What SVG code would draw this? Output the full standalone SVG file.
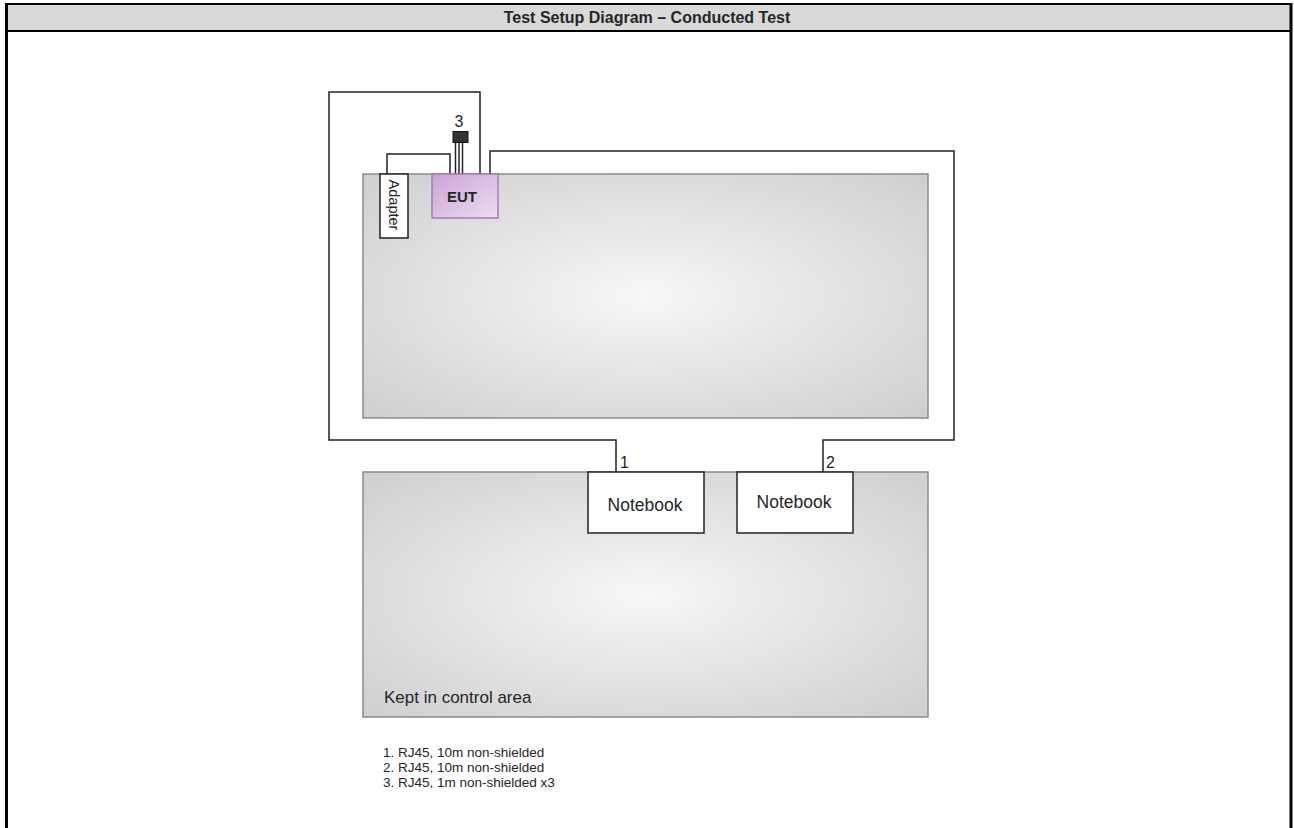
<svg xmlns="http://www.w3.org/2000/svg" width="1294" height="828" viewBox="0 0 1294 828">
<style>
.t{font-family:"Liberation Sans",Arial,sans-serif;fill:#262626}
.cable{fill:none;stroke:#222;stroke-width:1.5}
.table{stroke:#8a8a8a;stroke-width:1.5}
.box{fill:#fff;stroke:#222;stroke-width:1.5}
</style>
<defs>
<radialGradient id="tg" cx="0.5" cy="0.5" r="0.7">
<stop offset="0" stop-color="#f7f7f7"/>
<stop offset="1" stop-color="#cfcfcf"/>
</radialGradient>
<linearGradient id="eg" x1="0" y1="0" x2="1" y2="1">
<stop offset="0" stop-color="#caa3d6"/>
<stop offset="1" stop-color="#ecdcf1"/>
</linearGradient>
</defs>
<rect width="1294" height="828" fill="#fff"/>
<g id="header">
<rect x="6" y="4" width="1285" height="27" fill="#d9d9d9"/>
<line x1="6" y1="31" x2="1291" y2="31" stroke="#000" stroke-width="2"/>
<line x1="6" y1="4" x2="1291" y2="4" stroke="#000" stroke-width="2"/>
<line x1="6.5" y1="3" x2="6.5" y2="828" stroke="#000" stroke-width="3"/>
<line x1="1291" y1="3" x2="1291" y2="828" stroke="#000" stroke-width="3"/>
<text class="t" x="647" y="23" text-anchor="middle" font-size="16" font-weight="bold" fill="#000">Test Setup Diagram – Conducted Test</text>
</g>
<g id="table-top"><rect class="table" x="363" y="174" width="565" height="244" fill="url(#tg)"/></g>
<g id="table-bottom">
<rect class="table" x="363" y="472" width="565" height="245" fill="url(#tg)"/>
<text class="t" x="384" y="703" font-size="17">Kept in control area</text>
</g>
<g id="connectors">
<polyline class="cable" points="480,174 480,92 329,92 329,440 616,440 616,472"/>
<polyline class="cable" points="490,174 490,151 954,151 954,440 823,440 823,472"/>
<polyline class="cable" points="387,174 387,154 450,154 450,174"/>
<line class="cable" x1="455.5" y1="142" x2="455.5" y2="174"/>
<line class="cable" x1="459" y1="142" x2="459" y2="174"/>
<line class="cable" x1="462.5" y1="142" x2="462.5" y2="174"/>
<text class="t" x="620" y="468" font-size="16">1</text>
<text class="t" x="826" y="468" font-size="16">2</text>
</g>
<g id="cable3">
<rect x="453" y="131.5" width="15" height="11" fill="#333" stroke="#111"/>
<text class="t" x="459" y="127" font-size="16" text-anchor="middle">3</text>
</g>
<g id="adapter">
<rect class="box" x="380" y="174" width="28" height="64"/>
<text class="t" transform="translate(389,205) rotate(90)" text-anchor="middle" font-size="14.5">Adapter</text>
</g>
<g id="eut">
<rect x="432" y="174" width="66" height="44" fill="url(#eg)" stroke="#a878b8" stroke-width="1.5"/>
<text class="t" x="462" y="202" text-anchor="middle" font-size="15" font-weight="bold" fill="#333">EUT</text>
</g>
<g id="notebook1">
<rect class="box" x="588" y="472" width="116" height="61"/>
<text class="t" x="645" y="510.5" text-anchor="middle" font-size="17.5">Notebook</text>
</g>
<g id="notebook2">
<rect class="box" x="737" y="472" width="116" height="61"/>
<text class="t" x="794" y="508" text-anchor="middle" font-size="17.5">Notebook</text>
</g>
<g id="legend">
<text class="t" x="383" y="757" font-size="13.5">1. RJ45, 10m non-shielded</text>
<text class="t" x="383" y="772" font-size="13.5">2. RJ45, 10m non-shielded</text>
<text class="t" x="383" y="787" font-size="13.5">3. RJ45, 1m non-shielded x3</text>
</g>
</svg>
